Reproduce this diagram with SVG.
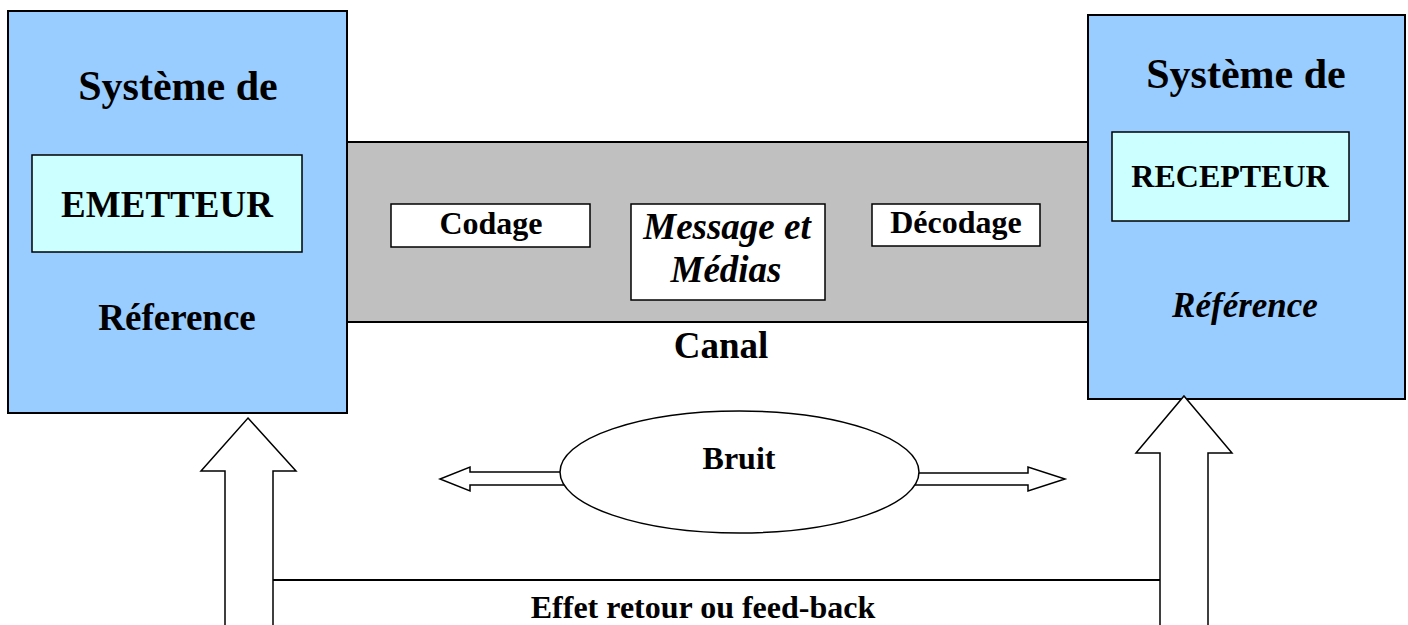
<svg xmlns="http://www.w3.org/2000/svg" width="1408" height="625" viewBox="0 0 1408 625">
<style>
text{font-family:"Liberation Serif","Times New Roman",serif;font-weight:bold;fill:#000;text-anchor:middle}
.it{font-style:italic}
.sys{fill:#99CCFF;stroke:#000;stroke-width:2}
.inner{fill:#CCFFFF;stroke:#000;stroke-width:1.5}
.wbox{fill:#fff;stroke:#000;stroke-width:1.5}
.arr{fill:#fff;stroke:#000;stroke-width:1.5;stroke-linejoin:miter}
</style>
<rect width="1408" height="625" fill="#fff"/>
<g id="canal">
<rect x="340" y="142" width="755" height="180" fill="#C0C0C0" stroke="#000" stroke-width="2"/>
<text x="721" y="358" font-size="37">Canal</text>
</g>
<g id="emetteur">
<rect class="sys" x="8" y="11" width="339" height="402"/>
<text x="178" y="100" font-size="42">Système de</text>
<rect class="inner" x="32" y="155" width="270" height="97"/>
<text x="167" y="217" font-size="37">EMETTEUR</text>
<text x="177" y="330" font-size="37">Réference</text>
</g>
<g id="recepteur">
<rect class="sys" x="1088" y="15" width="317" height="384"/>
<text x="1246" y="88" font-size="42">Système de</text>
<rect class="inner" x="1112" y="132" width="237" height="89"/>
<text x="1230" y="187" font-size="32">RECEPTEUR</text>
<text class="it" x="1245" y="317" font-size="35">Référence</text>
</g>
<g id="codage">
<rect class="wbox" x="391" y="204" width="199" height="43"/>
<text x="491" y="234" font-size="32">Codage</text>
</g>
<g id="message">
<rect class="wbox" x="631" y="204" width="194" height="96"/>
<text class="it" x="727" y="239" font-size="37">Message et</text>
<text class="it" x="726" y="282" font-size="37">Médias</text>
</g>
<g id="decodage">
<rect class="wbox" x="872" y="204" width="168" height="42"/>
<text x="956" y="233" font-size="32">Décodage</text>
</g>
<g id="connectors">
<polygon class="arr" points="248,418 296,471 273,471 273,630 225,630 225,471 201,471"/>
<polygon class="arr" points="1184,396 1232,453 1208,453 1208,630 1160,630 1160,453 1136,453"/>
<line x1="273" y1="580" x2="1160" y2="580" stroke="#000" stroke-width="2"/>
<polygon class="arr" points="565,472 470,472 470,467 440,479 470,491 470,485 565,485"/>
<polygon class="arr" points="914,473 1028,473 1028,467 1065,479 1028,491 1028,485 914,485"/>
</g>
<g id="bruit">
<ellipse cx="739.5" cy="472" rx="179.5" ry="61" fill="#fff" stroke="#000" stroke-width="1.5"/>
<text x="739" y="469" font-size="32">Bruit</text>
</g>
<g id="feedback">
<text x="703" y="618" font-size="32">Effet retour ou feed-back</text>
</g>
</svg>
